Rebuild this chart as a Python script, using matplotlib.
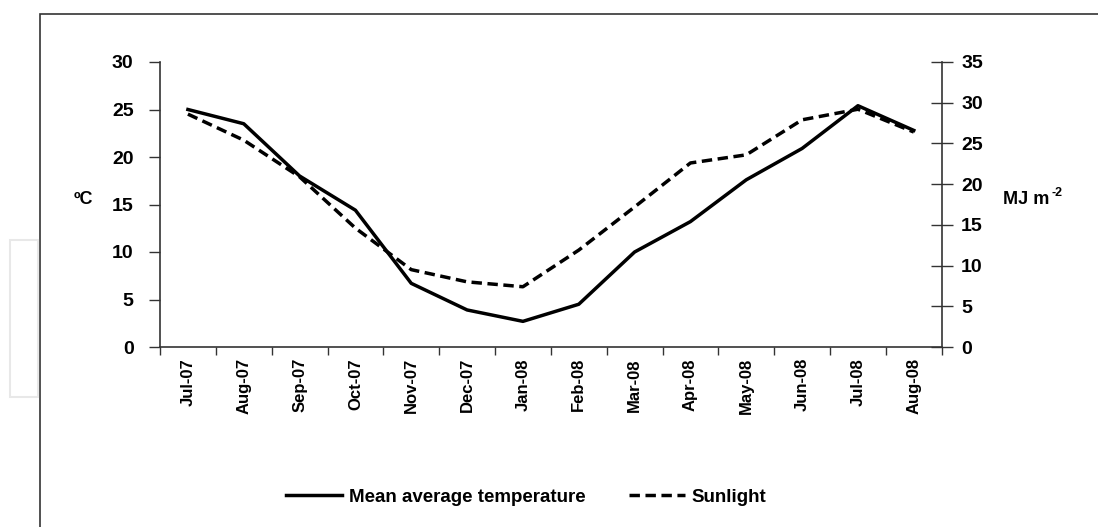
import matplotlib.pyplot as plt
from matplotlib.patches import Rectangle

plt.rcParams['font.family'] = ['Liberation Sans', 'DejaVu Sans']
plt.rcParams['font.weight'] = 'bold'

months = ["Jul-07", "Aug-07", "Sep-07", "Oct-07", "Nov-07", "Dec-07", "Jan-08",
          "Feb-08", "Mar-08", "Apr-08", "May-08", "Jun-08", "Jul-08", "Aug-08"]
temperature = [25.0, 23.5, 18.0, 14.4, 6.7, 3.9, 2.7,
               4.5, 10.0, 13.2, 17.6, 20.9, 25.4, 22.8]
sunlight = [28.6, 25.4, 20.9, 14.6, 9.5, 8.0, 7.4,
            11.9, 17.2, 22.6, 23.6, 27.9, 29.2, 26.4]

fig = plt.figure(figsize=(10.98, 5.27), dpi=100)
# page frame and faint artefact box on the left
fig.patches.append(Rectangle((40 / 1098, -0.05), 1.2, 1.05 - 14 / 527,
                             transform=fig.transFigure, fill=False,
                             edgecolor="#333333", linewidth=1.2))
fig.patches.append(Rectangle((10 / 1098, 1 - 397 / 527), 28 / 1098, 157 / 527,
                             transform=fig.transFigure, fill=False,
                             edgecolor="#e8e8e8", linewidth=1.5))

ax = fig.add_axes([160 / 1098, 1 - 347 / 527, (941.7 - 160) / 1098, (347 - 62) / 527])
ax2 = ax.twinx()

x = range(len(months))
l1, = ax.plot(x, temperature, color="black", linewidth=2.5, label="Mean average temperature")
l2, = ax2.plot(x, sunlight, color="black", linewidth=2.5, linestyle=(0, (3, 1.6)), label="Sunlight")

ax.set_xlim(-0.5, len(months) - 0.5)
ax.set_ylim(0, 30)
ax2.set_ylim(0, 35)
ax.set_yticks(range(0, 31, 5))
ax2.set_yticks(range(0, 36, 5))

ax.set_xticks([i - 0.5 for i in range(len(months) + 1)], minor=False)
ax.set_xticklabels([])
ax.set_xticks(list(x), minor=True)
ax.set_xticklabels(months, minor=True, rotation=90, fontsize=12, fontweight="bold")
ax.tick_params(axis="x", which="major", direction="out", length=6, width=1, color="#333333")
ax.tick_params(axis="x", which="minor", length=0, pad=8)
ax.tick_params(axis="y", direction="out", length=8, width=1, labelsize=14, pad=11, color="#333333")
ax2.tick_params(axis="y", direction="inout", length=16, width=1, labelsize=14, pad=6, color="#333333")

for a in (ax, ax2):
    a.spines["top"].set_visible(False)
    for s in a.spines.values():
        s.set_color("#333333")
        s.set_linewidth(1.2)
ax.spines["right"].set_visible(False)
ax2.spines["left"].set_visible(False)
ax2.spines["bottom"].set_visible(False)

for lab in ax.get_yticklabels() + ax2.get_yticklabels():
    lab.set_fontweight("bold")

fig.text(83 / 1098, 1 - 200 / 527, "ºC", fontsize=13, fontweight="bold", ha="center", va="center")
fig.text(1003 / 1098, 1 - 199 / 527, "MJ m", fontsize=13, fontweight="bold", ha="left", va="center")
fig.text(1051 / 1098, 1 - 193 / 527, "-2", fontsize=9, fontweight="bold", ha="left", va="center")

fig.legend(handles=[l1, l2], loc="center", bbox_to_anchor=(526 / 1098, 1 - 497 / 527),
           ncol=2, frameon=False, handlelength=3.0, columnspacing=2.3,
           handletextpad=0.35, prop={"weight": "bold", "size": 13.5})

fig.savefig("out.png", dpi=100)
